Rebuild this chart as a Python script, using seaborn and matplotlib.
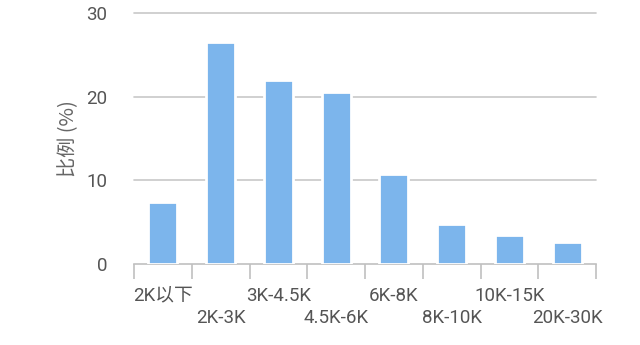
import matplotlib
matplotlib.use("Agg")
import matplotlib.pyplot as plt
import seaborn as sns
import numpy as np

categories = ["2K以下", "2K-3K", "3K-4.5K", "4.5K-6K", "6K-8K", "8K-10K", "10K-15K", "20K-30K"]
values = [7.4, 26.5, 22.0, 20.5, 10.8, 4.8, 3.5, 2.7]
yticks = [0, 10, 20, 30]
ylabel = "比例 (%)"

sns.set_style("white")
plt.rcParams['font.family'] = ['Roboto', 'Noto Sans CJK SC', 'DejaVu Sans']

fig = plt.figure(figsize=(6.4, 3.45), dpi=100)
ax = fig.add_axes([134/640, 80.7/345, 462/640, 251.6/345])

sns.barplot(x=categories, y=values, color='#7cb5ec', saturation=1, width=0.5,
            edgecolor='white', linewidth=2, ax=ax, zorder=3)

ax.set_xlim(-0.5, len(categories) - 0.5)
ax.set_ylim(0, 30)
ax.set_yticks(yticks)
ax.set_yticklabels([str(t) for t in yticks])
for t in yticks[1:]:
    ax.axhline(t, color='#c8c8c8', lw=1.2, zorder=1, clip_on=False)

for s in ['top', 'right', 'left']:
    ax.spines[s].set_visible(False)
ax.spines['bottom'].set_color('#c0c0c0')
ax.spines['bottom'].set_linewidth(1.2)

# staggered category labels: even ones on row 1 (tick labels), odd ones on row 2
ax.set_xticks(range(len(categories)))
ax.set_xticklabels([c if i % 2 == 0 else "" for i, c in enumerate(categories)],
                   fontsize=13.5, color='#555555')
for i, c in enumerate(categories):
    if i % 2 == 1:
        ax.text(i, -0.2134, c, transform=ax.get_xaxis_transform(), ha='center', va='center',
                fontsize=13.5, color='#555555')
ax.set_xticks(np.arange(-0.5, len(categories)), minor=True)
ax.tick_params(axis='x', which='major', bottom=True, length=0, pad=16)
ax.tick_params(axis='x', which='minor', bottom=True, length=11, width=1.2, color='#c0c0c0', direction='out')

ax.tick_params(axis='y', length=0, pad=19, labelsize=13.5, labelcolor='#555555')
ax.set_xlabel("")
ax.set_ylabel(ylabel, fontsize=14.5, color='#666666', labelpad=5,
              family=['Noto Sans CJK SC', 'DejaVu Sans'])

fig.savefig("out.png", dpi=100)
